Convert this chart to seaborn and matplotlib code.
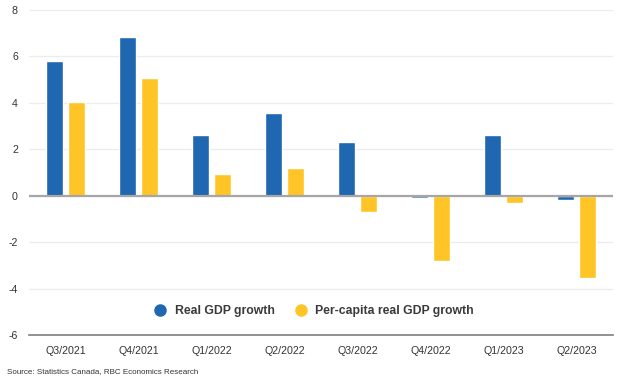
import pandas as pd
import matplotlib
matplotlib.use("Agg")
import matplotlib.pyplot as plt
import seaborn as sns
from matplotlib.lines import Line2D

quarters = ["Q3/2021", "Q4/2021", "Q1/2022", "Q2/2022",
            "Q3/2022", "Q4/2022", "Q1/2023", "Q2/2023"]
real_gdp = [5.8, 6.85, 2.6, 3.55, 2.3, -0.1, 2.6, -0.2]
per_capita = [4.05, 5.05, 0.95, 1.2, -0.7, -2.8, -0.3, -3.55]
series_names = ["Real GDP growth", "Per-capita real GDP growth"]
colors = ["#1f67b1", "#ffc425"]

df = pd.DataFrame({
    "quarter": quarters * 2,
    "value": real_gdp + per_capita,
    "series": [series_names[0]] * len(quarters) + [series_names[1]] * len(quarters),
})

sns.set_style("white")
plt.rcParams['font.family'] = ['Liberation Sans', 'DejaVu Sans']
plt.rcParams['axes.unicode_minus'] = False

fig = plt.figure(figsize=(6.24, 3.81), dpi=100)
ax = fig.add_axes([29 / 624, 46 / 381, 584 / 624, 325 / 381])

sns.barplot(data=df, x="quarter", y="value", hue="series", palette=colors,
            saturation=1, width=0.6, gap=0.2, ax=ax, legend=False, zorder=3)

ax.set_ylim(-6, 8)
ax.set_yticks(range(-6, 9, 2))
ax.set_xlim(-0.5, len(quarters) - 0.5)
ax.grid(axis="y", color="#ececec", linewidth=0.9, zorder=0)
ax.axhline(0, color="#a6a6a6", linewidth=1.6, zorder=4)
for s in ["top", "right", "left"]:
    ax.spines[s].set_visible(False)
ax.spines["bottom"].set_color("#7f7f7f")
ax.spines["bottom"].set_linewidth(1.2)
ax.set_xlabel("")
ax.set_ylabel("")
ax.tick_params(axis="both", length=0, labelsize=7.7, colors="#333333")
ax.tick_params(axis="x", pad=8)
ax.tick_params(axis="y", pad=8)

handles = [Line2D([0], [0], marker="o", linestyle="", markersize=8,
                  markerfacecolor=c, markeredgecolor=c) for c in colors]
leg = ax.legend(handles, series_names, loc="center", bbox_to_anchor=(0.483, 0.074),
                ncol=2, frameon=False, handletextpad=0.2, columnspacing=1.1,
                prop={"weight": "bold", "size": 8.8})
for t in leg.get_texts():
    t.set_color("#3a3a3a")

fig.text(0.012, 0.02, "Source: Statistics Canada, RBC Economics Research",
         fontsize=5.8, color="#333333")

fig.savefig("out.png", dpi=100)
